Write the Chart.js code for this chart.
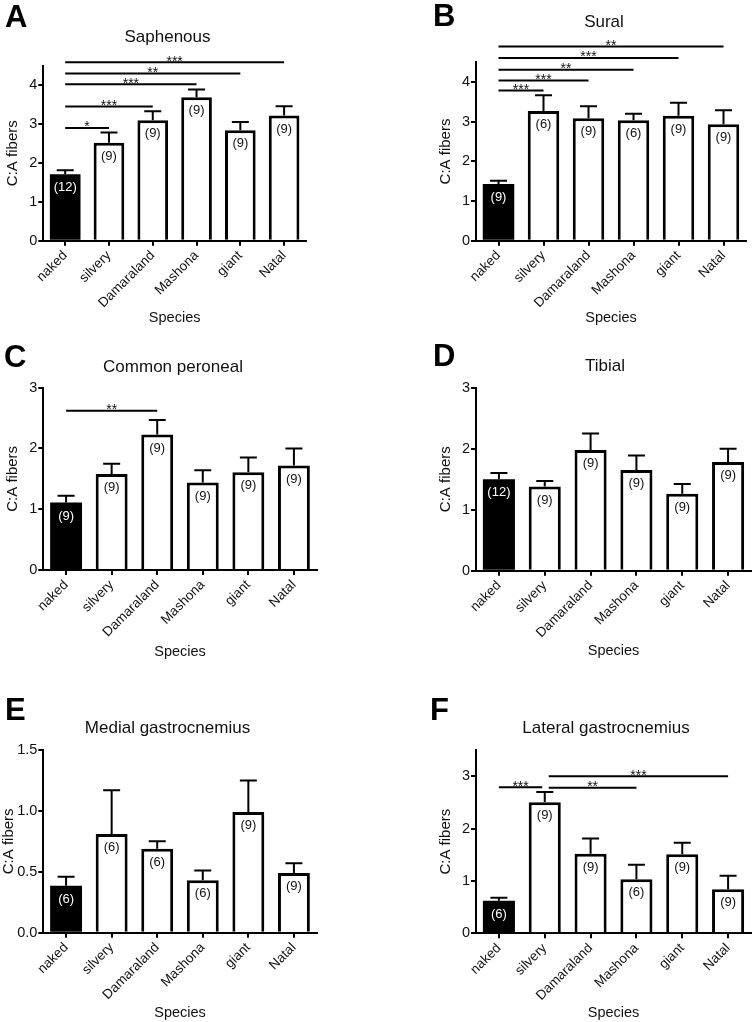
<!DOCTYPE html>
<html>
<head>
<meta charset="utf-8">
<script src="https://cdn.jsdelivr.net/npm/chart.js@4.4.1/dist/chart.umd.min.js"></script>
<style>
  body { margin: 0; background: #fff; width: 752px; height: 1022px; position: relative; overflow: hidden; }
  canvas { position: absolute; }
</style>
</head>
<body>
<canvas id="pA"></canvas>
<canvas id="pB"></canvas>
<canvas id="pC"></canvas>
<canvas id="pD"></canvas>
<canvas id="pE"></canvas>
<canvas id="pF"></canvas>
<script>
var species = ['naked', 'silvery', 'Damaraland', 'Mashona', 'giant', 'Natal'];

// A - Saphenous
var saphMean = [1.71, 2.52, 3.10, 3.69, 2.84, 3.22];
var saphSem  = [0.10, 0.26, 0.23, 0.20, 0.21, 0.24];
var saphN    = ['(12)', '(9)', '(9)', '(9)', '(9)', '(9)'];
var saphSigFrom  = [0, 0, 0, 0, 0];
var saphSigTo    = [1, 2, 3, 4, 5];
var saphSigY     = [2.90, 3.45, 4.02, 4.30, 4.59];
var saphSigStars = ['*', '***', '***', '**', '***'];

// B - Sural
var suralMean = [1.43, 3.27, 3.09, 3.04, 3.15, 2.94];
var suralSem  = [0.08, 0.40, 0.30, 0.16, 0.33, 0.35];
var suralN    = ['(9)', '(6)', '(9)', '(6)', '(9)', '(9)'];
var suralSigFrom  = [0, 0, 0, 0, 0];
var suralSigTo    = [1, 2, 3, 4, 5];
var suralSigY     = [3.79, 4.04, 4.31, 4.61, 4.90];
var suralSigStars = ['***', '***', '**', '***', '**'];

// C - Common peroneal
var peroMean = [1.11, 1.58, 2.23, 1.44, 1.61, 1.72];
var peroSem  = [0.11, 0.17, 0.24, 0.20, 0.24, 0.28];
var peroN    = ['(9)', '(9)', '(9)', '(9)', '(9)', '(9)'];
var peroSigFrom  = [0];
var peroSigTo    = [2];
var peroSigY     = [2.62];
var peroSigStars = ['**'];

// D - Tibial
var tibMean = [1.50, 1.38, 1.98, 1.65, 1.26, 1.78];
var tibSem  = [0.10, 0.09, 0.27, 0.24, 0.16, 0.22];
var tibN    = ['(12)', '(9)', '(9)', '(9)', '(9)', '(9)'];

// E - Medial gastrocnemius
var mgMean = [0.386, 0.81, 0.69, 0.43, 0.99, 0.49];
var mgSem  = [0.074, 0.36, 0.06, 0.08, 0.26, 0.08];
var mgN    = ['(6)', '(6)', '(6)', '(6)', '(9)', '(9)'];

// F - Lateral gastrocnemius
var lgMean = [0.62, 2.50, 1.52, 1.03, 1.51, 0.84];
var lgSem  = [0.06, 0.20, 0.29, 0.28, 0.22, 0.26];
var lgN    = ['(6)', '(9)', '(9)', '(6)', '(9)', '(9)'];
var lgSigFrom  = [0, 1, 1];
var lgSigTo    = [1, 3, 5];
var lgSigY     = [2.79, 2.78, 3.00];
var lgSigStars = ['***', '**', '***'];

var family = "'Liberation Sans', Arial, Helvetica, sans-serif";
Chart.defaults.font.family = family;
Chart.defaults.color = '#111';

var panels = [
  {id: 'pA', letter: 'A', title: 'Saphenous', mean: saphMean, sem: saphSem, n: saphN,
   sigFrom: saphSigFrom, sigTo: saphSigTo, sigY: saphSigY, sigStars: saphSigStars,
   yMax: 4.5, yStep: 1, yDec: 0,
   left: 0, top: 0, w: 376, h: 330, pad: {top: 65.7, left: 0, right: 70, bottom: 0},
   yW: 43.3, xH: 89.3, yTitlePad: 4.3, xTitlePad: 3.6,
   titleX: 167.5, titleY: 41.5, letterX: 5, letterY: 26.5},
  {id: 'pB', letter: 'B', title: 'Sural', mean: suralMean, sem: suralSem, n: suralN,
   sigFrom: suralSigFrom, sigTo: suralSigTo, sigY: suralSigY, sigStars: suralSigStars,
   yMax: 4.5, yStep: 1, yDec: 0,
   left: 376, top: 0, w: 376, h: 330, pad: {top: 62.3, left: 56, right: 6, bottom: 0},
   yW: 44, xH: 89.3, yTitlePad: 4.5, xTitlePad: 3.3,
   titleX: 228, titleY: 26.5, letterX: 57, letterY: 25.5},
  {id: 'pC', letter: 'C', title: 'Common peroneal', mean: peroMean, sem: peroSem, n: peroN,
   sigFrom: peroSigFrom, sigTo: peroSigTo, sigY: peroSigY, sigStars: peroSigStars,
   yMax: 3, yStep: 1, yDec: 0,
   left: 0, top: 340, w: 376, h: 330, pad: {top: 47.7, left: 0, right: 59.3, bottom: 0},
   yW: 43.3, xH: 100, yTitlePad: 4.3, xTitlePad: 9.6,
   titleX: 173, titleY: 31.5, letterX: 4, letterY: 27},
  {id: 'pD', letter: 'D', title: 'Tibial', mean: tibMean, sem: tibSem, n: tibN,
   sigFrom: [], sigTo: [], sigY: [], sigStars: [],
   yMax: 3, yStep: 1, yDec: 0,
   left: 376, top: 340, w: 376, h: 330, pad: {top: 47.7, left: 56, right: 1, bottom: 0},
   yW: 44, xH: 99.3, yTitlePad: 4.5, xTitlePad: 9.9,
   titleX: 229, titleY: 30.7, letterX: 57, letterY: 25.5},
  {id: 'pE', letter: 'E', title: 'Medial gastrocnemius', mean: mgMean, sem: mgSem, n: mgN,
   sigFrom: [], sigTo: [], sigY: [], sigStars: [],
   yMax: 1.5, yStep: 0.5, yDec: 1,
   left: 0, top: 680, w: 376, h: 342, pad: {top: 70, left: 0, right: 59.3, bottom: 0},
   yW: 43.3, xH: 89.3, yTitlePad: 0.2, xTitlePad: 0.6,
   titleX: 167.5, titleY: 52.5, letterX: 5, letterY: 39.5},
  {id: 'pF', letter: 'F', title: 'Lateral gastrocnemius', mean: lgMean, sem: lgSem, n: lgN,
   sigFrom: lgSigFrom, sigTo: lgSigTo, sigY: lgSigY, sigStars: lgSigStars,
   yMax: 3.5, yStep: 1, yDec: 0,
   left: 376, top: 680, w: 376, h: 342, pad: {top: 70, left: 56, right: 1, bottom: 0},
   yW: 44, xH: 88.7, yTitlePad: 4.5, xTitlePad: 0.3,
   titleX: 230, titleY: 52.5, letterX: 54, letterY: 39.5}
];

// error bars, n labels, significance lines, title and panel letter
function makeExtras(p) {
  return {
    id: 'extras',
    afterDatasetsDraw: function(chart) {
      var ctx = chart.ctx, xs = chart.scales.x, ys = chart.scales.y;
      var bars = chart.getDatasetMeta(0).data;
      ctx.save();
      ctx.strokeStyle = '#000';
      ctx.lineWidth = 2;
      bars.forEach(function(bar, i) {
        var top = ys.getPixelForValue(p.mean[i] + p.sem[i]);
        ctx.beginPath();
        ctx.moveTo(bar.x, bar.y);
        ctx.lineTo(bar.x, top);
        ctx.moveTo(bar.x - 8.5, top);
        ctx.lineTo(bar.x + 8.5, top);
        ctx.stroke();
        ctx.fillStyle = i === 0 ? '#fff' : '#111';
        ctx.font = '13px ' + family;
        ctx.textAlign = 'center';
        ctx.textBaseline = 'middle';
        ctx.fillText(p.n[i], bar.x, bar.y + 13.5);
      });
      p.sigFrom.forEach(function(f, k) {
        var t = p.sigTo[k];
        var x1 = xs.getPixelForValue(f), x2 = xs.getPixelForValue(t);
        if (p.sigTo.indexOf(f) >= 0) x1 += 4;
        if (p.sigFrom.indexOf(t) >= 0) x2 -= 2.5;
        var yy = ys.getPixelForValue(p.sigY[k]);
        ctx.lineWidth = 2;
        ctx.beginPath();
        ctx.moveTo(x1, yy);
        ctx.lineTo(x2, yy);
        ctx.stroke();
        ctx.fillStyle = '#111';
        ctx.font = '14px ' + family;
        ctx.textAlign = 'center';
        ctx.textBaseline = 'alphabetic';
        ctx.fillText(p.sigStars[k], (x1 + x2) / 2, yy + 3.5);
      });
      ctx.restore();
    },
    afterDraw: function(chart) {
      var ctx = chart.ctx;
      ctx.save();
      ctx.textBaseline = 'alphabetic';
      ctx.fillStyle = '#111';
      ctx.font = '17px ' + family;
      ctx.textAlign = 'center';
      ctx.fillText(p.title, p.titleX, p.titleY);
      ctx.fillStyle = '#000';
      ctx.font = 'bold 31px ' + family;
      ctx.textAlign = 'left';
      ctx.fillText(p.letter, p.letterX, p.letterY);
      ctx.restore();
    }
  };
}

panels.forEach(function(p) {
  var cv = document.getElementById(p.id);
  cv.width = p.w;
  cv.height = p.h;
  cv.style.left = p.left + 'px';
  cv.style.top = p.top + 'px';
  cv.style.width = p.w + 'px';
  cv.style.height = p.h + 'px';

  new Chart(cv, {
    type: 'bar',
    data: {
      labels: species,
      datasets: [{
        data: p.mean,
        backgroundColor: species.map(function(s, i) { return i === 0 ? '#000' : '#fff'; }),
        borderColor: '#000',
        borderWidth: species.map(function(s, i) { return i === 0 ? 0 : 3; }),
        barPercentage: 0.7,
        categoryPercentage: 1
      }]
    },
    options: {
      responsive: false,
      animation: false,
      layout: {padding: p.pad},
      plugins: {
        legend: {display: false},
        tooltip: {enabled: false},
        title: {display: false}
      },
      scales: {
        x: {
          offset: true,
          grid: {drawOnChartArea: false, drawTicks: true, tickLength: 5, color: '#000', lineWidth: 2, offset: false},
          border: {display: true, color: '#000', width: 2},
          ticks: {minRotation: 45, maxRotation: 45, padding: 2, autoSkip: false, color: '#111', font: {size: 13.5}},
          title: {display: true, text: 'Species', color: '#111', font: {size: 14.5}, padding: {top: 0, bottom: p.xTitlePad}},
          afterFit: function(s) { s.height = p.xH; }
        },
        y: {
          min: 0,
          max: p.yMax,
          bounds: 'data',
          grid: {drawOnChartArea: false, drawTicks: true, tickLength: 5, color: '#000', lineWidth: 2},
          border: {display: true, color: '#000', width: 2},
          ticks: {stepSize: p.yStep, includeBounds: false, padding: 1, color: '#111', font: {size: 14.5},
                  callback: function(v) { return v.toFixed(p.yDec); }},
          title: {display: true, text: 'C:A fibers', color: '#111', font: {size: 15}, padding: {top: p.yTitlePad, bottom: 0}},
          afterFit: function(s) { s.width = p.yW; }
        }
      }
    },
    plugins: [makeExtras(p)]
  });
});
</script>
</body>
</html>
